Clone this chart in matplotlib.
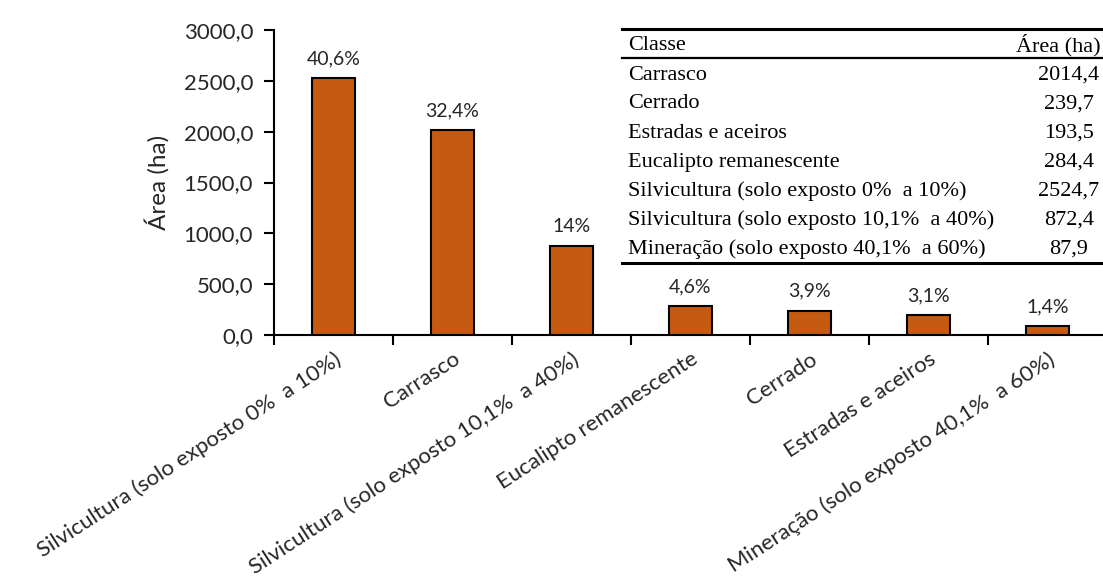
import matplotlib.pyplot as plt
from matplotlib.ticker import FuncFormatter
from matplotlib.lines import Line2D

classes = ["Silvicultura (solo exposto 0%  a 10%)", "Carrasco",
           "Silvicultura (solo exposto 10,1%  a 40%)", "Eucalipto remanescente",
           "Cerrado", "Estradas e aceiros", "Mineração (solo exposto 40,1%  a 60%)"]
area = [2524.7, 2014.4, 872.4, 284.4, 239.7, 193.5, 87.9]
pct_labels = ["40,6%", "32,4%", "14%", "4,6%", "3,9%", "3,1%", "1,4%"]

table_classes = ["Carrasco", "Cerrado", "Estradas e aceiros", "Eucalipto remanescente",
                 "Silvicultura (solo exposto 0%  a 10%)", "Silvicultura (solo exposto 10,1%  a 40%)",
                 "Mineração (solo exposto 40,1%  a 60%)"]
table_area = ["2014,4", "239,7", "193,5", "284,4", "2524,7", "872,4", "87,9"]

W, H = 1103, 587
fig = plt.figure(figsize=(W / 100, H / 100), dpi=100)
sans = "Lato"
ax = fig.add_axes([274 / W, 1 - 335 / H, 833 / W, 305 / H])

x = range(len(classes))
ax.bar(x, area, width=0.36, color="#C55A11", edgecolor="black", linewidth=1.5, zorder=3)
for i, (v, t) in enumerate(zip(area, pct_labels)):
    ax.text(i, v + 110, t, ha="center", va="bottom", fontsize=14, family=sans, color="#262626")

ax.set_xlim(-0.5, len(classes) - 0.5)
ax.set_ylim(0, 3000)
ax.set_yticks(range(0, 3001, 500))
ax.yaxis.set_major_formatter(FuncFormatter(lambda v, p: f"{v:.1f}".replace(".", ",")))
ax.set_xticks([i - 0.5 for i in range(len(classes) + 1)])
ax.set_xticklabels([])
ax.set_xticks(list(x), minor=True)
ax.set_xticklabels(classes, minor=True, rotation=33, ha="right", va="top",
                   rotation_mode="anchor", fontsize=16, family=sans, color="#262626")
ax.tick_params(axis="x", which="minor", length=0, pad=10)
ax.tick_params(axis="x", which="major", length=7, width=1.5, direction="out")
ax.tick_params(axis="y", length=7, width=1.5, labelsize=16, pad=8, labelcolor="#262626")
for lab in ax.get_yticklabels():
    lab.set_family(sans)
for s in ["top", "right"]:
    ax.spines[s].set_visible(False)
ax.spines["left"].set_linewidth(1.5)
ax.spines["bottom"].set_linewidth(1.5)
ax.set_ylabel("Área (ha)", fontsize=17.5, family=sans, color="#262626", labelpad=10)

# table in the upper right
tl, tr = 622, 1103
ytop, yhead, ybot = 29, 58, 263
for yy, lw in [(ytop, 2.2), (yhead, 1.6), (ybot, 2.2)]:
    fig.add_artist(Line2D([tl / W, tr / W], [1 - yy / H, 1 - yy / H], color="black", lw=lw))
serif = "Liberation Serif"
fs = 16
fig.text(628 / W, 1 - 45 / H, "Classe", fontsize=fs, family=serif, va="center")
fig.text(1058 / W, 1 - 45 / H, "Área (ha)", fontsize=fs, family=serif, va="center", ha="center")
for k, (c, a) in enumerate(zip(table_classes, table_area)):
    yy = 75 + k * 29
    fig.text(628 / W, 1 - yy / H, c, fontsize=fs, family=serif, va="center")
    fig.text(1069 / W, 1 - yy / H, a, fontsize=fs, family=serif, va="center", ha="center")

fig.savefig("out.png", dpi=100)
